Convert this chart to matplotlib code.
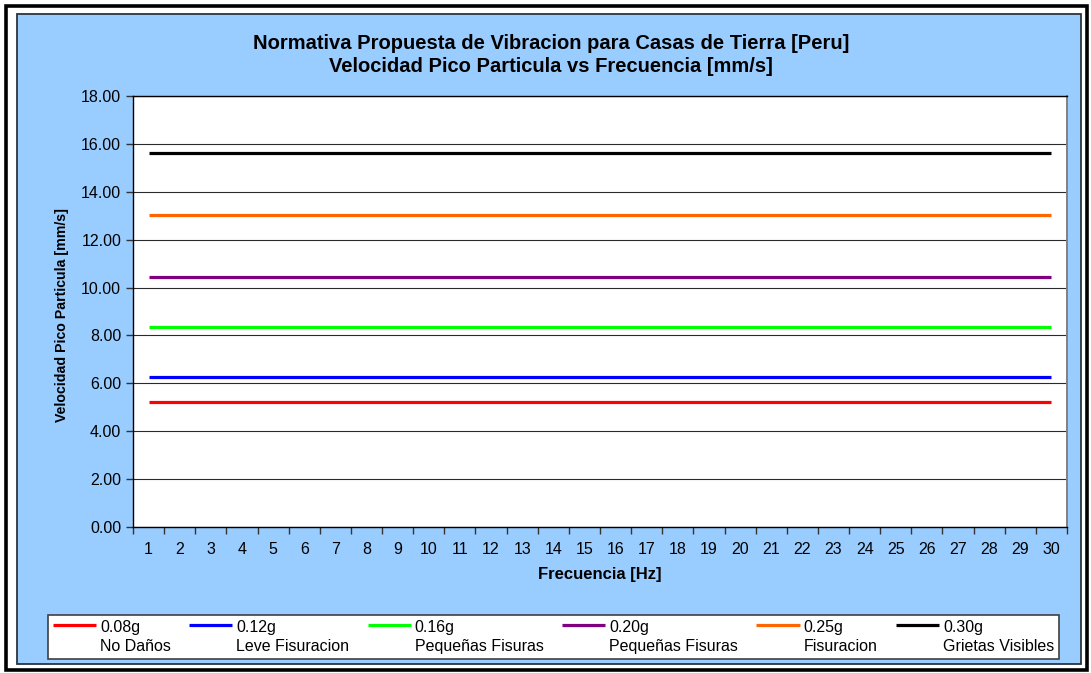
import numpy as np
import matplotlib
matplotlib.use("Agg")
import matplotlib.pyplot as plt
from matplotlib.legend_handler import HandlerLine2D
from matplotlib.patches import Rectangle

plt.rcParams['font.family'] = ['Liberation Sans', 'DejaVu Sans']

# Data ---------------------------------------------------------------------
frequencies = list(range(1, 31))                      # Hz
ppv_levels = [5.21, 6.25, 8.34, 10.43, 13.03, 15.64]  # mm/s, one per damage level
series_labels = [
    "0.08g\nNo Daños",
    "0.12g\nLeve Fisuracion",
    "0.16g\nPequeñas Fisuras",
    "0.20g\nPequeñas Fisuras",
    "0.25g\nFisuracion",
    "0.30g\nGrietas Visibles",
]
series_colors = ["#FF0000", "#0000FF", "#00FF00", "#800080", "#FF6600", "#000000"]
y_ticks = [0, 2, 4, 6, 8, 10, 12, 14, 16, 18]

title_lines = "Normativa Propuesta de Vibracion para Casas de Tierra [Peru]\n" \
              "Velocidad Pico Particula vs Frecuencia [mm/s]"


class RaisedLineHandler(HandlerLine2D):
    """Line handle lifted to sit beside the first line of a two-line label."""

    def __init__(self, lift, **kw):
        super().__init__(**kw)
        self.lift = lift

    def create_artists(self, legend, orig_handle, xdescent, ydescent,
                       width, height, fontsize, trans):
        artists = super().create_artists(legend, orig_handle, xdescent, ydescent,
                                         width, height, fontsize, trans)
        for a in artists:
            a.set_ydata(np.asarray(a.get_ydata(), float) + self.lift)
        return artists


W, H = 1091, 673
fig = plt.figure(figsize=(W / 100, H / 100), dpi=100, facecolor="white")


def fx(px):
    return px / W


def fy(py):
    return 1 - py / H


# Chart area background and outer frame
fig.add_artist(Rectangle((fx(17), fy(664)), fx(1081) - fx(17), fy(14) - fy(664),
                         transform=fig.transFigure, facecolor="#99CCFF",
                         edgecolor="#2b3440", linewidth=1.3, zorder=-2))
fig.add_artist(Rectangle((fx(6), fy(670)), fx(1087) - fx(6), fy(6) - fy(670),
                         transform=fig.transFigure, facecolor="none",
                         edgecolor="black", linewidth=2.6, zorder=-1))

ax = fig.add_axes([fx(133), fy(527), fx(1067) - fx(133), fy(96) - fy(527)])
ax.set_facecolor("white")

for level, color, label in zip(ppv_levels, series_colors, series_labels):
    ax.plot(frequencies, np.full(len(frequencies), level), color=color,
            linewidth=2.3, label=label, solid_capstyle="butt", zorder=3)

ax.set_xlim(0.5, 30.5)
ax.set_ylim(0, 18)

ax.set_yticks(y_ticks)
ax.set_yticklabels([f"{v:.2f}" for v in y_ticks])
ax.yaxis.grid(True, color="#2a2a2a", linewidth=0.8)
ax.set_axisbelow(True)

ax.set_xticks(np.arange(0.5, 31, 1.0))
ax.set_xticklabels([])
ax.set_xticks(frequencies, minor=True)
ax.set_xticklabels([str(f) for f in frequencies], minor=True)
ax.tick_params(axis="x", which="major", direction="out", length=5, width=1, color="#333333")
ax.tick_params(axis="x", which="minor", length=0, pad=11, labelsize=11.5)
ax.tick_params(axis="y", direction="out", length=5, width=1, color="#333333",
               pad=3.5, labelsize=11.5)

for side in ("left", "bottom", "top"):
    ax.spines[side].set_color("black")
    ax.spines[side].set_linewidth(1.0)
ax.spines["right"].set_color("#808080")
ax.spines["right"].set_linewidth(1.4)

# Titles and axis labels
fig.text(fx(551), fy(55), title_lines, ha="center", va="center",
         fontsize=14.5, fontweight="bold", linespacing=1.22)
fig.text(fx(600), fy(575), "Frecuencia [Hz]", ha="center", va="center",
         fontsize=12, fontweight="bold")
fig.text(fx(62), fy(315), "Velocidad Pico Particula [mm/s]", ha="center",
         va="center", rotation=90, fontsize=10.2, fontweight="bold")

# Legend
handles, labels = ax.get_legend_handles_labels()
leg = fig.legend(handles, labels, loc="center",
                 bbox_to_anchor=(fx(553.5), fy(637)), ncol=6, fontsize=11.5,
                 frameon=True, fancybox=False, framealpha=1,
                 edgecolor="#404040", handlelength=2.7, handletextpad=0.25,
                 columnspacing=1.15, borderpad=0.3,
                 handler_map={h: RaisedLineHandler(lift=9.2) for h in handles})
leg.get_frame().set_linewidth(1.2)
for t in leg.get_texts():
    t.set_linespacing(1.3)

fig.savefig("out.png", dpi=100, facecolor="white")
